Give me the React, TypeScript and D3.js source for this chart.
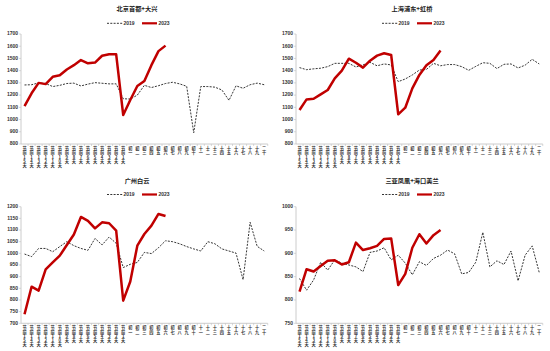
import React from "react";
import * as d3 from "d3";

const categories = [
  "节前15天", "节前14天", "节前13天", "节前12天", "节前11天", "节前10天", "节前9天", "节前8天",
  "节前7天", "节前6天", "节前5天", "节前4天", "节前3天", "节前2天", "节前1天",
  "初一", "初二", "初三", "初四", "初五", "初六", "初七", "初八", "初九", "初十",
  "十一", "十二", "十三", "十四", "十五", "十六", "十七", "十八", "十九", "二十",
];

const bj2019 = [1283, 1285, 1300, 1295, 1270, 1280, 1295, 1298, 1275, 1290, 1302, 1297, 1292, 1292, 1170, 1168, 1200, 1280, 1262, 1277, 1295, 1305, 1292, 1272, 893, 1270, 1270, 1265, 1242, 1157, 1276, 1256, 1285, 1298, 1285];
const bj2023 = [1110, 1215, 1300, 1290, 1350, 1362, 1410, 1445, 1487, 1460, 1466, 1522, 1534, 1534, 1037, 1160, 1275, 1315, 1445, 1560, 1605];
const sh2019 = [1425, 1408, 1415, 1420, 1433, 1460, 1460, 1460, 1430, 1447, 1468, 1440, 1455, 1447, 1310, 1332, 1365, 1405, 1410, 1460, 1440, 1450, 1450, 1433, 1403, 1435, 1465, 1460, 1417, 1452, 1455, 1422, 1445, 1493, 1455];
const sh2023 = [1078, 1165, 1170, 1206, 1242, 1337, 1400, 1498, 1465, 1425, 1482, 1523, 1542, 1528, 1043, 1097, 1255, 1365, 1444, 1487, 1564];
const gz2019 = [997, 986, 1021, 1021, 1007, 1029, 1050, 1033, 1021, 1013, 1064, 1036, 1070, 1043, 939, 953, 961, 1004, 999, 1024, 1054, 1050, 1041, 1029, 1019, 1010, 1050, 1041, 1019, 1010, 1001, 887, 1133, 1030, 1010];
const gz2023 = [739, 857, 840, 931, 961, 990, 1036, 1081, 1156, 1139, 1107, 1133, 1129, 1097, 797, 879, 1033, 1083, 1119, 1169, 1160];
const sy2019 = [846, 821, 843, 881, 864, 886, 879, 875, 871, 861, 902, 905, 912, 886, 896, 879, 854, 882, 874, 889, 896, 907, 899, 856, 859, 881, 945, 871, 884, 876, 905, 841, 896, 916, 859];
const sy2023 = [818, 866, 861, 873, 884, 885, 876, 881, 923, 907, 911, 916, 931, 932, 832, 856, 912, 941, 921, 939, 950];

const titles = ["北京首都+大兴", "上海浦东+虹桥", "广州白云", "三亚凤凰+海口美兰"];
const seriesNames = ["2019", "2023"];
const yDomains: [number, number][] = [[800, 1700], [800, 1700], [700, 1200], [750, 1000]];
const ySteps = [100, 100, 50, 50];

const RED = "#c00000";
const AXIS = "#bfbfbf";
const FONT = "'Liberation Sans', Arial, sans-serif";
const CJK = "'Noto Sans CJK SC', 'Liberation Sans', sans-serif";

const layouts = [
  { ox: 0, oy: 0, titleY: 9.5, legendY: 23.3, top: 34, bottom: 144 },
  { ox: 275, oy: 0, titleY: 9.5, legendY: 23.3, top: 34, bottom: 144 },
  { ox: 0, oy: 175, titleY: 6, legendY: 19.5, top: 31.7, bottom: 148.3 },
  { ox: 275, oy: 175, titleY: 6, legendY: 19.5, top: 31.7, bottom: 148.3 },
];

function Panel({ idx, s2019, s2023 }: { idx: number; s2019: number[]; s2023: number[] }) {
  const L = layouts[idx];
  const x0 = 21;
  const x1 = 21 + 35 * 7.05;
  const x = d3.scaleBand<string>().domain(categories).range([x0, x1]);
  const y = d3.scaleLinear().domain(yDomains[idx]).range([L.bottom, L.top]);
  const ticks = d3.range(yDomains[idx][0], yDomains[idx][1] + 1, ySteps[idx]);
  const cx = (i: number) => (x(categories[i]) || 0) + x.bandwidth() / 2;
  const line = d3.line<number>().x((_, i) => cx(i)).y((d) => y(d));

  return (
    <g transform={`translate(${L.ox},${L.oy})`}>
      <text x={137} y={L.titleY} textAnchor="middle" dominantBaseline="middle" fontFamily={CJK} fontSize={6.2} fontWeight={700} fill="#222">
        {titles[idx]}
      </text>
      {/* legend */}
      <line x1={107} x2={122.5} y1={L.legendY} y2={L.legendY} stroke="#000" strokeWidth={0.8} strokeDasharray="2,1.3" />
      <text x={123.5} y={L.legendY} dominantBaseline="middle" fontFamily={FONT} fontSize={5} fontWeight={700} fill="#333">{seriesNames[0]}</text>
      <line x1={142} x2={157} y1={L.legendY} y2={L.legendY} stroke={RED} strokeWidth={2.2} />
      <text x={158.5} y={L.legendY} dominantBaseline="middle" fontFamily={FONT} fontSize={5} fontWeight={700} fill="#333">{seriesNames[1]}</text>

      {/* y axis */}
      <line x1={x0} x2={x0} y1={L.top} y2={L.bottom} stroke={AXIS} strokeWidth={0.8} />
      {ticks.map((t) => (
        <g key={t}>
          <line x1={x0 - 2} x2={x0} y1={y(t)} y2={y(t)} stroke={AXIS} strokeWidth={0.6} />
          <text x={x0 - 3} y={y(t)} textAnchor="end" dominantBaseline="middle" fontFamily={FONT} fontSize={5} fontWeight={700} fill="#333">
            {t}
          </text>
        </g>
      ))}

      {/* x axis, labels written top to bottom */}
      <line x1={x0} x2={x1} y1={L.bottom} y2={L.bottom} stroke={AXIS} strokeWidth={0.8} />
      {categories.map((c, i) => (
        <g key={c}>
          <line x1={x(c)! + x.bandwidth()} x2={x(c)! + x.bandwidth()} y1={L.bottom} y2={L.bottom + 2} stroke={AXIS} strokeWidth={0.6} />
          <text
            x={cx(i)}
            y={L.bottom + 2.5}
            fontFamily={CJK}
            fontSize={4.2}
            fontWeight={700}
            fill="#333"
            style={{ writingMode: "vertical-rl", textOrientation: "upright" } as React.CSSProperties}
          >
            {c}
          </text>
        </g>
      ))}

      <path d={line(s2019) || ""} fill="none" stroke="#000" strokeWidth={0.8} strokeDasharray="2,1.3" />
      <path d={line(s2023) || ""} fill="none" stroke={RED} strokeWidth={2.5} strokeLinejoin="round" />
    </g>
  );
}

export default function App() {
  return (
    <svg width={550} height={351} style={{ position: "absolute", left: 0, top: 0, background: "#fff" }}>
      <Panel idx={0} s2019={bj2019} s2023={bj2023} />
      <Panel idx={1} s2019={sh2019} s2023={sh2023} />
      <Panel idx={2} s2019={gz2019} s2023={gz2023} />
      <Panel idx={3} s2019={sy2019} s2023={sy2023} />
    </svg>
  );
}
